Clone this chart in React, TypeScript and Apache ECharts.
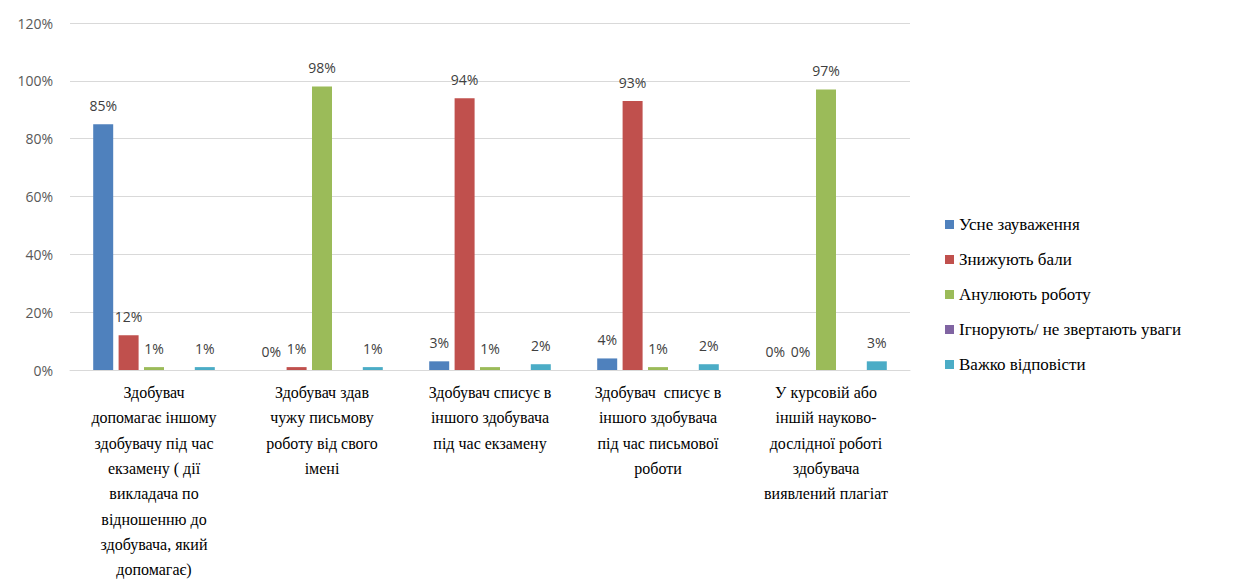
import React, { useEffect, useRef } from "react";
import * as echarts from "echarts";

const categories = [
  "Здобувач\nдопомагає іншому\nздобувачу під час\nекзамену ( дії\nвикладача по\nвідношенню до\nздобувача, який\nдопомагає)",
  "Здобувач здав\nчужу письмову\nроботу від свого\nімені",
  "Здобувач списує в\nіншого здобувача\nпід час екзамену",
  "Здобувач  списує в\nіншого здобувача\nпід час письмової\nроботи",
  "У курсовій або\nіншій науково-\nдослідної роботі\nздобувача\nвиявлений плагіат",
];

const seriesNames = [
  "Усне зауваження",
  "Знижують бали",
  "Анулюють роботу",
  "Ігнорують/ не звертають уваги",
  "Важко відповісти",
];

const oralRemark = [85, 0, 3, 4, 0];
const lowerScore = [12, 1, 94, 93, 0];
const cancelWork = [1, 98, 1, 1, 97];
const ignore: (number | null)[] = [null, null, null, null, null];
const hardToSay = [1, 1, 2, 2, 3];

const yTicks = { min: 0, max: 120, interval: 20 };

const colors = ["#4f81bd", "#c0504d", "#9bbb59", "#8064a2", "#4bacc6"];

const SERIF = "serif";
const SANS = "'Open Sans', 'Liberation Sans', sans-serif";

export default function App() {
  const ref = useRef<HTMLDivElement>(null);
  useEffect(() => {
    if (!ref.current) return;
    const chart = echarts.init(ref.current, undefined, { renderer: "svg" });
    const values = [oralRemark, lowerScore, cancelWork, ignore, hardToSay];
    chart.setOption({
      animation: false,
      color: colors,
      grid: { left: 70, right: 330, top: 23, bottom: 211, outerBoundsMode: "none", containLabel: false },
      legend: {
        orient: "vertical",
        left: 940,
        top: 211,
        itemWidth: 9,
        itemHeight: 9,
        itemGap: 18,
        icon: "rect",
        textStyle: { fontFamily: SERIF, fontSize: 17, color: "#000" },
        data: seriesNames,
      },
      xAxis: {
        type: "category",
        data: categories,
        axisLine: { lineStyle: { color: "#d9d9d9" } },
        axisTick: { show: false },
        axisLabel: {
          interval: 0,
          margin: 10,
          fontFamily: SERIF,
          fontSize: 16,
          lineHeight: 25.3,
          color: "#000",
        },
      },
      yAxis: {
        type: "value",
        min: yTicks.min,
        max: yTicks.max,
        interval: yTicks.interval,
        axisLine: { show: false },
        axisTick: { show: false },
        splitLine: { lineStyle: { color: "#d9d9d9" } },
        axisLabel: {
          formatter: "{value}%",
          margin: 17,
          fontFamily: SANS,
          fontSize: 14,
          color: "#595959",
        },
      },
      series: seriesNames.map((name, i) => ({
        name,
        type: "bar",
        data: values[i],
        barWidth: 20,
        barGap: "27%",
        label: {
          show: true,
          position: "top",
          distance: 12,
          formatter: (p: any) => (p.value == null ? "" : p.value + "%"),
          fontFamily: SANS,
          fontSize: 14,
          color: "#404040",
        },
      })),
    });
    return () => chart.dispose();
  }, []);
  return (
    <div
      ref={ref}
      style={{ position: "absolute", left: 0, top: 0, width: 1240, height: 581, background: "#fff" }}
    />
  );
}
